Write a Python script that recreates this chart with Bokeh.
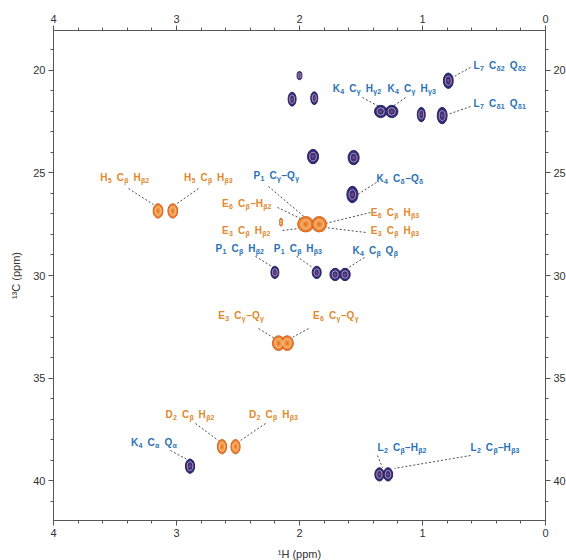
import re
from bokeh.plotting import figure
from bokeh.models import Range1d, LinearAxis, SingleIntervalTicker, ColumnDataSource
from bokeh.embed import file_html
from bokeh.resources import INLINE
from bokeh.core.properties import value

# ---------------- data (ppm) ----------------
# blue (dark) cross peaks: 1H shift, 13C shift, 1H linewidth, 13C linewidth
blue_h = [2.00, 2.06, 1.88, 1.34, 1.25, 1.01, 0.84, 0.79, 1.89, 1.56, 1.57,
          2.20, 1.86, 1.71, 1.63, 2.89, 1.35, 1.28]
blue_c = [20.25, 21.40, 21.35, 22.00, 22.00, 22.15, 22.20, 20.50, 24.20, 24.25, 26.05,
          29.85, 29.85, 29.95, 29.95, 39.30, 39.70, 39.70]
blue_wh = [0.04, 0.065, 0.057, 0.10, 0.10, 0.065, 0.08, 0.08, 0.09, 0.09, 0.09,
           0.065, 0.073, 0.085, 0.085, 0.075, 0.075, 0.075]
blue_wc = [0.40, 0.68, 0.63, 0.60, 0.60, 0.70, 0.80, 0.75, 0.70, 0.70, 0.80,
           0.60, 0.60, 0.60, 0.60, 0.70, 0.65, 0.65]

# orange cross peaks
orange_h = [3.15, 3.03, 2.15, 1.95, 1.84, 2.17, 2.10, 2.63, 2.52]
orange_c = [26.85, 26.85, 27.40, 27.50, 27.50, 33.30, 33.30, 38.35, 38.35]
orange_wh = [0.08, 0.08, 0.025, 0.13, 0.12, 0.10, 0.10, 0.075, 0.075]
orange_wc = [0.70, 0.70, 0.40, 0.75, 0.75, 0.72, 0.72, 0.70, 0.70]

# assignment labels (markup: _{...} = subscript), anchor = left edge / middle
blue_labels = ["L_{7} C_{δ2} Q_{δ2}", "L_{7} C_{δ1} Q_{δ1}", "K_{4} C_{γ} H_{γ2}",
               "K_{4} C_{γ} H_{γ3}", "P_{1} C_{γ}–Q_{γ}", "K_{4} C_{δ}–Q_{δ}",
               "P_{1} C_{β} H_{β2}", "P_{1} C_{β} H_{β3}", "K_{4} C_{β} Q_{β}",
               "K_{4} C_{α} Q_{α}", "L_{2} C_{β}–H_{β2}", "L_{2} C_{β}–H_{β3}"]
blue_lab_h = [0.585, 0.585, 1.73, 1.285, 2.374, 1.374, 2.683, 2.21, 1.57, 3.37, 1.366, 0.61]
blue_lab_c = [19.76, 21.61, 20.88, 20.88, 25.12, 25.27, 28.68, 28.68, 28.78, 38.15, 38.40, 38.40]

orange_labels = ["H_{5} C_{β} H_{β2}", "H_{5} C_{β} H_{β3}", "E_{6} C_{β}–H_{β2}",
                 "E_{3} C_{β} H_{β2}", "E_{6} C_{β} H_{β3}", "E_{3} C_{β} H_{β3}",
                 "E_{3} C_{γ}–Q_{γ}", "E_{6} C_{γ}–Q_{γ}", "D_{2} C_{β} H_{β2}",
                 "D_{2} C_{β} H_{β3}"]
orange_lab_h = [3.62, 2.94, 2.63, 2.63, 1.42, 1.42, 2.66, 1.89, 3.09, 2.41]
orange_lab_c = [25.20, 25.20, 26.50, 27.80, 26.93, 27.80, 31.95, 31.95, 36.80, 36.80]

# leader lines: label end -> peak
lead_h0 = [0.610, 0.610, 1.488, 1.138, 2.252, 1.374, 2.358, 2.024, 1.472, 3.049, 1.366, 0.610,
           3.390, 2.821, 2.179, 2.138, 1.423, 1.463, 2.333, 1.927, 2.846, 2.276]
lead_c0 = [19.85, 21.76, 21.32, 21.32, 25.66, 25.46, 29.07, 29.07, 29.12, 38.54, 38.78, 38.78,
           25.76, 25.76, 26.68, 27.80, 26.93, 27.90, 32.59, 32.59, 37.22, 37.22]
lead_h1 = [0.756, 0.797, 1.341, 1.252, 1.935, 1.528, 2.211, 1.894, 1.626, 2.911, 1.325, 1.228,
           3.187, 3.008, 1.992, 2.008, 1.789, 1.789, 2.187, 2.073, 2.659, 2.480]
lead_c1 = [20.34, 22.15, 21.80, 21.80, 27.27, 26.05, 29.61, 29.61, 29.71, 38.98, 39.37, 39.41,
           26.54, 26.54, 27.22, 27.71, 27.46, 27.66, 33.12, 33.07, 38.05, 38.05]

x_title = "¹H (ppm)"
y_title = "¹³C (ppm)"

# ---------------- figure ----------------
FONT = "Liberation Sans"
p = figure(frame_width=492, frame_height=490, output_backend="svg", toolbar_location=None,
           x_range=Range1d(4, 0), y_range=Range1d(41.95, 18.05),
           min_border_left=53, min_border_top=30, min_border_right=21, min_border_bottom=38,
           background_fill_color="white", border_fill_color="white")
p.xgrid.visible = False
p.ygrid.visible = False
p.outline_line_color = "#555555"
p.xaxis.visible = False
p.yaxis.visible = False


def style_axis(ax):
    ax.axis_line_color = "#555555"
    ax.major_tick_line_color = "#555555"
    ax.minor_tick_line_color = "#555555"
    ax.major_tick_out = 5
    ax.major_tick_in = 0
    ax.minor_tick_out = 3
    ax.minor_tick_in = 0
    ax.major_label_text_font = FONT
    ax.major_label_text_font_size = "11px"
    ax.major_label_text_color = "#333333"
    ax.major_label_standoff = 3
    ax.axis_label_text_font = FONT
    ax.axis_label_text_font_size = "11px"
    ax.axis_label_text_font_style = "normal"
    ax.axis_label_text_color = "#333333"
    ax.axis_label_standoff = 8


for loc in ["below", "above"]:
    ax = LinearAxis(ticker=SingleIntervalTicker(interval=1, num_minor_ticks=5))
    style_axis(ax)
    if loc == "below":
        ax.axis_label = x_title
    p.add_layout(ax, loc)
for loc in ["left", "right"]:
    ax = LinearAxis(ticker=SingleIntervalTicker(interval=5, num_minor_ticks=5))
    style_axis(ax)
    if loc == "left":
        ax.axis_label = y_title
    p.add_layout(ax, loc)

# leader lines
p.segment(x0=lead_h0, y0=lead_c0, x1=lead_h1, y1=lead_c1,
          line_color="#3a3a3a", line_width=1, line_dash="2 2", line_alpha=0.9)

# peaks: outer contour, then inner contours
p.ellipse(x=blue_h, y=blue_c, width=blue_wh, height=blue_wc,
          fill_color="#2e2c7e", line_color="#25235f", line_width=1)
p.ellipse(x=blue_h, y=blue_c, width=[w * 0.6 for w in blue_wh], height=[h * 0.6 for h in blue_wc],
          fill_color="#3b2f78", line_color="#b994b4", line_width=1)
p.ellipse(x=blue_h, y=blue_c, width=[w * 0.25 for w in blue_wh], height=[h * 0.25 for h in blue_wc],
          fill_color="#6a4a88", line_color=None)

p.ellipse(x=orange_h, y=orange_c, width=orange_wh, height=orange_wc,
          fill_color="#ee8034", line_color="#d4601c", line_width=1)
p.ellipse(x=orange_h, y=orange_c, width=[w * 0.6 for w in orange_wh], height=[h * 0.6 for h in orange_wc],
          fill_color="#f19a4c", line_color="#f8c68a", line_width=1)
p.ellipse(x=orange_h, y=orange_c, width=[w * 0.25 for w in orange_wh], height=[h * 0.25 for h in orange_wc],
          fill_color="#e8782c", line_color=None)

# ---------------- labels with subscripts ----------------
MAIN = 10.0
SUB = 7.0
W = {"A": .722, "B": .722, "C": .722, "D": .722, "E": .667, "F": .611, "H": .722, "I": .278,
     "K": .722, "L": .611, "P": .667, "Q": .778, " ": .45, "–": .556,
     "α": .62, "β": .58, "γ": .56, "δ": .61}


def tw(s, size):
    return sum(W.get(ch, 0.556) for ch in s) * size


def build(labels, hs, cs):
    main = dict(x=[], y=[], text=[], xo=[])
    sub = dict(x=[], y=[], text=[], xo=[])
    for lab, h, c in zip(labels, hs, cs):
        off = 0.0
        for part in re.split(r"(_\{[^}]*\})", lab):
            if not part:
                continue
            if part.startswith("_{"):
                t = part[2:-1]
                d, size = sub, SUB
            else:
                t = part
                d, size = main, MAIN
            # leading spaces collapse in SVG: advance the offset instead
            while t.startswith(" "):
                off += W[" "] * size
                t = t[1:]
            if not t:
                continue
            d["x"].append(h)
            d["y"].append(c)
            d["text"].append(t.rstrip(" "))
            d["xo"].append(off)
            off += tw(t, size) + (0.6 if size == SUB else 0.3)
    return ColumnDataSource(main), ColumnDataSource(sub)


for labels, hs, cs, col in [(blue_labels, blue_lab_h, blue_lab_c, "#2a72b5"),
                            (orange_labels, orange_lab_h, orange_lab_c, "#de8a2c")]:
    m, s = build(labels, hs, cs)
    p.text(x="x", y="y", text="text", x_offset="xo", source=m, text_color=col,
           text_font=value(FONT), text_font_size="10px", text_font_style="bold",
           text_align="left", text_baseline="middle")
    p.text(x="x", y="y", text="text", x_offset="xo", y_offset=3, source=s, text_color=col,
           text_font=value(FONT), text_font_size="7px", text_font_style="bold",
           text_align="left", text_baseline="middle")

open("out.html", "w").write(file_html(p, INLINE))
